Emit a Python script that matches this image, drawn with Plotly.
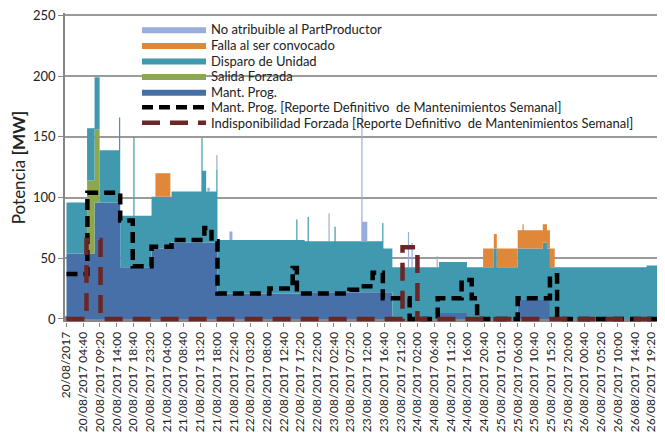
import plotly.graph_objects as go
import pandas as pd

# ---------------- data (step series: segment start, value in MW) ----------------
END_TIME = "2017-08-26 22:20"

mant_prog = [("2017-08-20 00:00", 54), ("2017-08-20 07:50", 96), ("2017-08-20 15:00", 42.5),
             ("2017-08-20 23:45", 58), ("2017-08-21 05:20", 63), ("2017-08-21 18:10", 21),
             ("2017-08-22 18:30", 22), ("2017-08-23 19:00", 0), ("2017-08-24 08:00", 5),
             ("2017-08-24 15:50", 0), ("2017-08-25 06:00", 15.6), ("2017-08-25 15:00", 0)]

salida_forzada = [("2017-08-20 00:00", 0), ("2017-08-20 05:45", 60), ("2017-08-20 09:15", 0)]

disparo_unidad = [("2017-08-20 00:00", 42), ("2017-08-20 05:45", 43), ("2017-08-20 14:40", 70),
                  ("2017-08-20 15:00", 42.5), ("2017-08-20 18:40", 107.5), ("2017-08-20 19:00", 42.5),
                  ("2017-08-20 23:45", 42.6), ("2017-08-21 05:20", 42), ("2017-08-21 13:40", 86),
                  ("2017-08-21 14:00", 59), ("2017-08-21 15:00", 42), ("2017-08-21 17:50", 60),
                  ("2017-08-21 18:10", 44), ("2017-08-22 16:10", 61), ("2017-08-22 16:30", 44),
                  ("2017-08-22 18:30", 42), ("2017-08-22 19:20", 62), ("2017-08-22 19:40", 42),
                  ("2017-08-23 02:50", 54), ("2017-08-23 03:10", 42), ("2017-08-23 16:10", 57),
                  ("2017-08-23 16:30", 36), ("2017-08-23 19:00", 42.6), ("2017-08-24 08:00", 42),
                  ("2017-08-24 15:50", 42.6), ("2017-08-24 23:20", 58), ("2017-08-25 00:10", 42.6),
                  ("2017-08-25 06:00", 42.4), ("2017-08-25 13:00", 47.4), ("2017-08-25 14:10", 42.4),
                  ("2017-08-25 15:00", 42.6), ("2017-08-26 18:00", 44)]

falla_convocado = [("2017-08-20 00:00", 0), ("2017-08-21 00:50", 19.5), ("2017-08-21 05:00", 0),
                   ("2017-08-24 20:20", 15.4), ("2017-08-24 23:20", 12), ("2017-08-25 00:10", 15.4),
                   ("2017-08-25 06:00", 15), ("2017-08-25 07:20", 20), ("2017-08-25 07:40", 15),
                   ("2017-08-25 15:00", 15.4), ("2017-08-25 16:20", 0)]

no_atribuible = [("2017-08-20 00:00", 0), ("2017-08-21 15:20", 3), ("2017-08-21 16:00", 0),
                 ("2017-08-21 17:50", 12), ("2017-08-21 18:10", 0), ("2017-08-21 21:30", 7),
                 ("2017-08-21 22:20", 0), ("2017-08-23 01:10", 23), ("2017-08-23 01:30", 0),
                 ("2017-08-23 10:20", 110), ("2017-08-23 10:40", 16), ("2017-08-23 12:00", 0),
                 ("2017-08-23 23:20", 29), ("2017-08-23 23:40", 0), ("2017-08-24 00:20", 20),
                 ("2017-08-24 00:40", 0), ("2017-08-24 07:20", 9), ("2017-08-24 07:40", 0)]

reporte_mant = [("2017-08-20 00:00", 37), ("2017-08-20 05:50", 104), ("2017-08-20 15:00", 81),
                ("2017-08-20 18:30", 43.5), ("2017-08-20 23:45", 59.5), ("2017-08-21 05:20", 65),
                ("2017-08-21 14:30", 75), ("2017-08-21 16:30", 64), ("2017-08-21 18:10", 21),
                ("2017-08-22 08:40", 25), ("2017-08-22 15:10", 42), ("2017-08-22 16:20", 21),
                ("2017-08-23 07:00", 24), ("2017-08-23 10:20", 27), ("2017-08-23 13:30", 38),
                ("2017-08-23 16:20", 17), ("2017-08-23 23:50", 0), ("2017-08-24 07:40", 17),
                ("2017-08-24 14:20", 32), ("2017-08-24 17:10", 17), ("2017-08-24 18:40", 0),
                ("2017-08-25 06:00", 17), ("2017-08-25 15:00", 36), ("2017-08-25 17:00", 0)]

reporte_forzada = [("2017-08-20 00:00", 0), ("2017-08-20 05:35", 65), ("2017-08-20 09:30", 0),
                   ("2017-08-23 21:50", 59), ("2017-08-24 02:00", 0)]

tick_times = ["2017-08-20 00:00", "2017-08-20 04:40", "2017-08-20 09:20", "2017-08-20 14:00",
              "2017-08-20 18:40", "2017-08-20 23:20", "2017-08-21 04:00", "2017-08-21 08:40",
              "2017-08-21 13:20", "2017-08-21 18:00", "2017-08-21 22:40", "2017-08-22 03:20",
              "2017-08-22 08:00", "2017-08-22 12:40", "2017-08-22 17:20", "2017-08-22 22:00",
              "2017-08-23 02:40", "2017-08-23 07:20", "2017-08-23 12:00", "2017-08-23 16:40",
              "2017-08-23 21:20", "2017-08-24 02:00", "2017-08-24 06:40", "2017-08-24 11:20",
              "2017-08-24 16:00", "2017-08-24 20:40", "2017-08-25 01:20", "2017-08-25 06:00",
              "2017-08-25 10:40", "2017-08-25 15:20", "2017-08-25 20:00", "2017-08-26 00:40",
              "2017-08-26 05:20", "2017-08-26 10:00", "2017-08-26 14:40", "2017-08-26 19:20"]
tick_labels = ["20/08/2017", "20/08/2017 04:40", "20/08/2017 09:20", "20/08/2017 14:00",
               "20/08/2017 18:40", "20/08/2017 23:20", "21/08/2017 04:00", "21/08/2017 08:40",
               "21/08/2017 13:20", "21/08/2017 18:00", "21/08/2017 22:40", "22/08/2017 03:20",
               "22/08/2017 08:00", "22/08/2017 12:40", "22/08/2017 17:20", "22/08/2017 22:00",
               "23/08/2017 02:40", "23/08/2017 07:20", "23/08/2017 12:00", "23/08/2017 16:40",
               "23/08/2017 21:20", "24/08/2017 02:00", "24/08/2017 06:40", "24/08/2017 11:20",
               "24/08/2017 16:00", "24/08/2017 20:40", "25/08/2017 01:20", "25/08/2017 06:00",
               "25/08/2017 10:40", "25/08/2017 15:20", "25/08/2017 20:00", "26/08/2017 00:40",
               "26/08/2017 05:20", "26/08/2017 10:00", "26/08/2017 14:40", "26/08/2017 19:20"]
y_ticks = [0, 50, 100, 150, 200, 250]

# ---------------- build figure ----------------
FONT = "Lato, 'Open Sans', sans-serif"
area_series = [  # bottom of stack first; last item = legend slot (0 = top)
    ("Mant. Prog.", mant_prog, "#4770A8", 4),
    ("Salida Forzada", salida_forzada, "#8DA84C", 3),
    ("Disparo de Unidad", disparo_unidad, "#4199AF", 2),
    ("Falla al ser convocado", falla_convocado, "#E0873A", 1),
    ("No atribuible al PartProductor", no_atribuible, "#97AEDB", 0),
]

end_ts = pd.Timestamp(END_TIME)
breaks = sorted({pd.Timestamp(t) for _, d, _, _ in area_series for t, _ in d} | {end_ts})


def value_at(data, t):
    v = 0
    for s, val in data:
        if pd.Timestamp(s) <= t:
            v = val
        else:
            break
    return v


def legend_id(slot):
    return "legend" if slot == 0 else f"legend{slot + 1}"


xs = []
for i in range(len(breaks) - 1):
    xs += [breaks[i], breaks[i + 1]]

fig = go.Figure()
cum = [0.0] * len(xs)
for k, (name, data, color, slot) in enumerate(area_series):
    ys = []
    for i in range(len(breaks) - 1):
        v = value_at(data, breaks[i])
        ys += [v, v]
    cum = [c + y for c, y in zip(cum, ys)]
    fig.add_trace(go.Scatter(x=xs, y=list(cum), mode="lines", line=dict(width=0, color=color),
                             fill="tozeroy" if k == 0 else "tonexty", fillcolor=color,
                             name=name, legend=legend_id(slot)))


def step_line(data):
    x = [pd.Timestamp(t) for t, _ in data] + [end_ts]
    y = [v for _, v in data] + [data[-1][1]]
    return x, y


lx, ly = step_line(reporte_mant)
fig.add_trace(go.Scatter(x=lx, y=ly, mode="lines", line=dict(color="black", width=4.5, dash="11px,6px", shape="hv"),
                         name="Mant. Prog. [Reporte Definitivo  de Mantenimientos Semanal]", legend=legend_id(5)))
lx, ly = step_line(reporte_forzada)
fig.add_trace(go.Scatter(x=lx, y=ly, mode="lines", line=dict(color="#6B2626", width=4.5, dash="18px,10px", shape="hv"),
                         name="Indisponibilidad Forzada [Reporte Definitivo  de Mantenimientos Semanal]",
                         legend=legend_id(6)))

# the page adds an 8px body margin, so the figure is 8px smaller than the window
Y_MIN, Y_MAX = -2.5, 252
PX_PER_MW = 304 / 250
W, H = 657, 425
plot_h = (Y_MAX - Y_MIN) * PX_PER_MW
zero_fig_y = 319 - 8                       # y of the 0 line inside the figure
B = H - (zero_fig_y + (-Y_MIN) * PX_PER_MW)
T = H - B - plot_h
L, R = 57, 0
plot_w = W - L - R
top250 = (Y_MAX - 250) * PX_PER_MW       # px from plot top to the 250 line

layout_legends = {}
legend_top_px = 14.0 + top250   # centre of first legend row below the plot top
legend_step_px = 15.6
for slot in range(7):
    layout_legends[legend_id(slot)] = dict(
        x=0.12, y=1 - (legend_top_px + slot * legend_step_px) / plot_h,
        xanchor="left", yanchor="middle", bgcolor="rgba(0,0,0,0)", itemwidth=64,
        font=dict(family=FONT, size=13, color="#222222"))

fig.update_layout(
    width=W, height=H,
    margin=dict(l=L, r=R, t=T, b=B, autoexpand=False),
    paper_bgcolor="white", plot_bgcolor="white",
    font=dict(family=FONT, size=12, color="#222222"),
    showlegend=True,
    xaxis=dict(type="date", range=["2017-08-19 23:35", "2017-08-26 23:08"],
               tickmode="array", tickvals=tick_times, ticktext=tick_labels, tickangle=-90,
               showgrid=False, showline=False,
               ticks="outside", ticklen=4, tickcolor="#878787", automargin=False,
               ticklabeloverflow="allow",
               tickfont=dict(size=12, color="#222222")),
    yaxis=dict(range=[Y_MIN, Y_MAX], tickmode="array", tickvals=y_ticks, showgrid=True,
               gridcolor="#9a9a9a", gridwidth=1.5,
               zeroline=True, zerolinecolor="#878787", zerolinewidth=6,
               showline=True, linecolor="#878787", linewidth=1.5, ticks="outside", ticklen=5,
               tickcolor="#878787", tickfont=dict(size=13, color="#222222"),
               automargin=False, ticklabeloverflow="allow",
               title=dict(text="Potencia <b>[MW]</b>", font=dict(size=17, color="#222222"), standoff=8)),
    **layout_legends,
)

fig.write_html("out.html")
